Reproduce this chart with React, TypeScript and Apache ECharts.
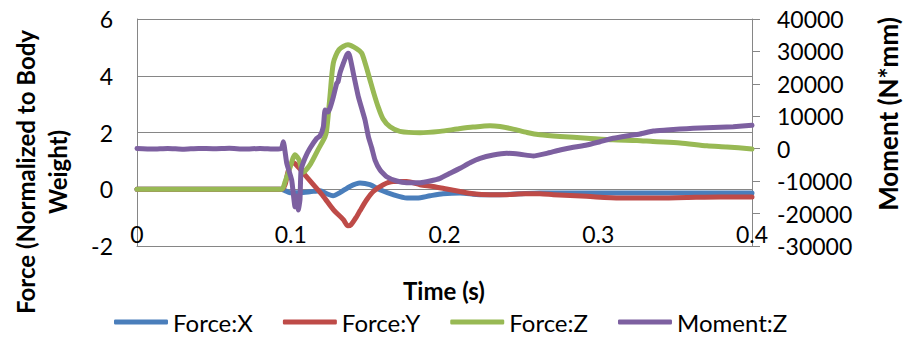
import React, { useEffect, useRef } from "react";
import * as echarts from "echarts";

const seriesNames = ["Force:X", "Force:Y", "Force:Z", "Moment:Z"];
const seriesColors = ["#4A7EBB", "#BE4B48", "#98B954", "#7D60A0"];

// [time (s), force normalized to body weight]
const forceX: [number, number][] = [
  [0, 0], [0.05, 0], [0.094, 0], [0.0963, -0.05], [0.0995, -0.12], [0.106, -0.12],
  [0.1125, -0.09], [0.119, -0.05], [0.1236, -0.16], [0.1275, -0.23], [0.132, -0.12],
  [0.1385, 0.1], [0.145, 0.22], [0.1515, 0.16], [0.158, -0.02], [0.1665, -0.19],
  [0.1756, -0.31], [0.1821, -0.31], [0.1906, -0.23], [0.199, -0.16], [0.2101, -0.13],
  [0.2231, -0.19], [0.2361, -0.19], [0.2491, -0.16], [0.2621, -0.13], [0.2927, -0.13],
  [0.3356, -0.13], [0.4, -0.13],
];

const forceY: [number, number][] = [
  [0, 0], [0.05, 0], [0.094, 0], [0.0963, 0.16], [0.0982, 0.62], [0.1008, 0.93],
  [0.1028, 0.9], [0.1082, 0.57], [0.1147, 0.16], [0.1212, -0.25], [0.1277, -0.72],
  [0.1342, -1.07], [0.1372, -1.29], [0.1392, -1.25], [0.1429, -0.96], [0.145, -0.76],
  [0.1494, -0.37], [0.1537, -0.08], [0.1602, 0.16], [0.1667, 0.27], [0.1754, 0.27],
  [0.1841, 0.16], [0.1927, 0.1], [0.2014, 0.01], [0.2101, -0.08], [0.2187, -0.16],
  [0.2296, -0.19], [0.2405, -0.19], [0.2513, -0.16], [0.2621, -0.16], [0.2708, -0.19],
  [0.2925, -0.25], [0.3141, -0.31], [0.3358, -0.31], [0.3575, -0.29], [0.3792, -0.27],
  [0.4, -0.27],
];

const forceZ: [number, number][] = [
  [0, 0], [0.05, 0], [0.094, 0], [0.0963, 0.26], [0.0995, 0.76], [0.1028, 1.22],
  [0.1054, 1.04], [0.108, 0.6], [0.1125, 0.86], [0.1177, 1.39], [0.1223, 1.85],
  [0.1234, 2.1], [0.1255, 3.27], [0.1277, 4.45], [0.1314, 4.92],
  [0.1372, 5.09], [0.143, 4.95], [0.1461, 4.8], [0.1489, 4.35],
  [0.1515, 3.86], [0.1541, 3.37], [0.1568, 2.91], [0.16, 2.48], [0.1646, 2.2],
  [0.171, 2.04], [0.1841, 1.99], [0.1971, 2.04], [0.2081, 2.12], [0.2185, 2.19],
  [0.2296, 2.24], [0.2361, 2.21], [0.2446, 2.12], [0.2537, 2.0], [0.2621, 1.92],
  [0.2751, 1.86], [0.2927, 1.8], [0.3096, 1.74], [0.3252, 1.72], [0.3356, 1.68],
  [0.3532, 1.63], [0.3707, 1.53], [0.3837, 1.49], [0.4, 1.42],
];

// [time (s), moment N*mm]
const momentZ: [number, number][] = [
  [0, 100], [0.01, -100], [0.02, 100], [0.03, -150], [0.04, 100], [0.05, 0],
  [0.06, 150], [0.07, -100], [0.08, 100], [0.09, -100], [0.094, 200],
  [0.0952, 2160], [0.0974, -4500], [0.1006, -9650], [0.1028, -17900], [0.1041, -14600],
  [0.1049, -18900], [0.106, -15800], [0.1067, -6600], [0.1093, -2870], [0.1125, 120],
  [0.1169, 3200], [0.119, 3900], [0.1212, 6780], [0.1223, 11900], [0.1242, 11300],
  [0.1255, 12500], [0.1277, 16000], [0.1299, 20200], [0.1307, 20600], [0.132, 23300],
  [0.1342, 26300], [0.1364, 28900], [0.1374, 29400], [0.1385, 28300], [0.1407, 23300],
  [0.144, 16000], [0.1483, 8850], [0.1505, 3700], [0.1527, 220], [0.1548, -3500],
  [0.1581, -6570], [0.1624, -8640], [0.1689, -9960], [0.1754, -10490], [0.1841, -10490],
  [0.1906, -9960], [0.1971, -9130], [0.2036, -7590], [0.2101, -6040], [0.2166, -4320],
  [0.2231, -2960], [0.2317, -1940], [0.2405, -1420], [0.2491, -1730], [0.2578, -2250],
  [0.2665, -1420], [0.2751, -400], [0.2838, 430], [0.2925, 1140], [0.3011, 2160],
  [0.3098, 3210], [0.3185, 3920], [0.3271, 4530], [0.3358, 5460], [0.3445, 5770],
  [0.3532, 6080], [0.3618, 6290], [0.3705, 6480], [0.3792, 6600], [0.3878, 6790],
  [0.4, 7220],
];

const leftTitle = "Force (Normalized to Body\nWeight)";
const rightTitle = "Moment (N*mm)";
const xTitle = "Time (s)";

const FONT = "Lato, 'Liberation Sans', sans-serif";
const GRAY = "#868686";

export default function App() {
  const ref = useRef<HTMLDivElement>(null);
  useEffect(() => {
    const chart = echarts.init(ref.current!, null, { renderer: "svg" });
    const data = [forceX, forceY, forceZ, momentZ];
    chart.setOption({
      animation: false,
      backgroundColor: "#ffffff",
      textStyle: { fontFamily: FONT },
      grid: { left: 137, right: 155, top: 19, bottom: 93, containLabel: false },
      legend: {
        left: 114,
        top: 309,
        padding: 0,
        icon: "roundRect",
        itemWidth: 54,
        itemHeight: 5,
        itemGap: 30,
        textStyle: { fontFamily: FONT, fontSize: 24, lineHeight: 26, color: "#000" },
        data: seriesNames,
      },
      xAxis: {
        type: "value",
        min: 0,
        max: 0.4,
        interval: 0.1,
        axisLine: { show: true, onZero: false, lineStyle: { color: GRAY, width: 1 } },
        axisTick: { show: false },
        splitLine: { show: false },
        axisLabel: { margin: -24, fontSize: 23, color: "#000", fontFamily: FONT },
      },
      yAxis: [
        {
          type: "value",
          min: -2,
          max: 6,
          interval: 2,
          axisLine: { show: true, lineStyle: { color: GRAY, width: 1 } },
          axisTick: { show: false },
          splitLine: { show: true, lineStyle: { color: GRAY, width: 1 } },
          axisLabel: { margin: 24, fontSize: 23, color: "#000", fontFamily: FONT },
        },
        {
          type: "value",
          min: -30000,
          max: 40000,
          interval: 10000,
          position: "right",
          axisLine: { show: true, lineStyle: { color: GRAY, width: 1 } },
          axisTick: { show: true, inside: false, length: 8, lineStyle: { color: GRAY } },
          splitLine: { show: false },
          axisLabel: {
            margin: 25,
            fontSize: 23,
            color: "#000",
            fontFamily: FONT,
            formatter: (v: number) => String(v),
          },
        },
      ],
      series: data.map((d, i) => ({
        name: seriesNames[i],
        type: "line",
        yAxisIndex: i === 3 ? 1 : 0,
        data: d,
        showSymbol: false,
        symbol: "none",
        smooth: i === 3 ? 0.15 : 0.25,
        color: seriesColors[i],
        lineStyle: { color: seriesColors[i], width: 5, cap: "round", join: "round" },
        z: 2 + i,
      })),
      graphic: [
        {
          type: "text",
          x: 41,
          y: 172,
          rotation: Math.PI / 2,
          style: {
            text: leftTitle,
            fill: "#000",
            fontFamily: FONT,
            fontSize: 24,
            fontWeight: "bold",
            lineHeight: 32,
            align: "center",
            verticalAlign: "middle",
          },
        },
        {
          type: "text",
          x: 888,
          y: 114,
          rotation: Math.PI / 2,
          style: {
            text: rightTitle,
            fill: "#000",
            fontFamily: FONT,
            fontSize: 26,
            fontWeight: "bold",
            align: "center",
            verticalAlign: "middle",
          },
        },
        {
          type: "text",
          x: 444,
          y: 290,
          style: {
            text: xTitle,
            fill: "#000",
            fontFamily: FONT,
            fontSize: 24,
            fontWeight: "bold",
            align: "center",
            verticalAlign: "middle",
          },
        },
      ],
    });
    return () => chart.dispose();
  }, []);
  return (
    <div
      ref={ref}
      style={{ position: "fixed", left: 0, top: 0, width: 907, height: 339, background: "#fff" }}
    />
  );
}
